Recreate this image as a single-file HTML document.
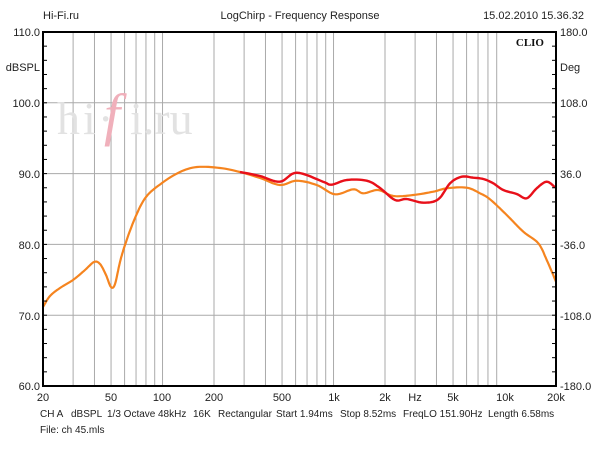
<!DOCTYPE html>
<html><head><style>
body{margin:0;background:#fff;}
svg{display:block;font-family:"Liberation Sans",sans-serif;}
</style></head><body>
<svg width="600" height="450" viewBox="0 0 600 450">
<rect width="600" height="450" fill="#fff"/>
<g font-size="11" fill="#222">
<text x="43" y="19">Hi-Fi.ru</text>
<text x="300" y="19" text-anchor="middle">LogChirp - Frequency Response</text>
<text x="584" y="19" text-anchor="end">15.02.2010 15.36.32</text>
<text x="40" y="36" text-anchor="end">110.0</text>
<text x="40" y="71" text-anchor="end">dBSPL</text>
<text x="40" y="107" text-anchor="end">100.0</text>
<text x="40" y="178" text-anchor="end">90.0</text>
<text x="40" y="249" text-anchor="end">80.0</text>
<text x="40" y="320" text-anchor="end">70.0</text>
<text x="40" y="390" text-anchor="end">60.0</text>
<text x="560" y="36">180.0</text>
<text x="560" y="71">Deg</text>
<text x="560" y="107">108.0</text>
<text x="560" y="178">36.0</text>
<text x="560" y="249">-36.0</text>
<text x="560" y="320">-108.0</text>
<text x="560" y="390">-180.0</text>
<g text-anchor="middle">
<text x="43" y="401">20</text><text x="111" y="401">50</text><text x="162" y="401">100</text>
<text x="214" y="401">200</text><text x="282" y="401">500</text><text x="334" y="401">1k</text>
<text x="385" y="401">2k</text><text x="415" y="401">Hz</text><text x="453" y="401">5k</text>
<text x="505" y="401">10k</text><text x="556" y="401">20k</text>
</g>
<g font-size="10">
<text x="40" y="417">CH A</text><text x="71" y="417">dBSPL</text><text x="107" y="417">1/3 Octave</text>
<text x="158" y="417">48kHz</text><text x="193" y="417">16K</text><text x="218" y="417">Rectangular</text>
<text x="276" y="417">Start 1.94ms</text><text x="340" y="417">Stop 8.52ms</text>
<text x="403" y="417">FreqLO 151.90Hz</text><text x="488" y="417">Length 6.58ms</text>
<text x="40" y="433">File: ch 45.mls</text>
</g>
</g>
<g stroke="#aaa" stroke-width="1" id="grid"></g>
<g font-family="Liberation Serif,serif" font-size="46" fill="#e2e2e2"><text x="57" y="134" letter-spacing="3">hi</text><text x="98" y="134">·</text><text x="130" y="134">i.ru</text></g>
<text x="104" y="134" font-family="Liberation Serif,serif" font-size="58" font-style="italic" fill="#f0b0bb">f</text>
<text x="544" y="46" text-anchor="end" font-family="Liberation Serif,serif" font-size="11" font-weight="bold" fill="#111">CLIO</text>
<polyline id="o" fill="none" stroke="#f5841f" stroke-width="2.2" stroke-linejoin="round"/>
<polyline id="r" fill="none" stroke="#e8101a" stroke-width="2.4" stroke-linejoin="round"/>
<rect x="43" y="32" width="513" height="354" fill="none" stroke="#000" stroke-width="2"/>
<g id="ticks" stroke="#000" stroke-width="1"></g>
</svg>
<script>
var ns="http://www.w3.org/2000/svg",g=document.getElementById("grid"),t=document.getElementById("ticks");
function L(p,x1,y1,x2,y2){var l=document.createElementNS(ns,"line");l.setAttribute("x1",x1);l.setAttribute("y1",y1);l.setAttribute("x2",x2);l.setAttribute("y2",y2);p.appendChild(l);}
for(var d=10;d<=1000;d*=10)for(var m=1;m<10;m++){var f=d*m;if(f<20||f>20000)continue;var x=43+171*Math.log10(f/20);L(g,x,32,x,386);}
for(var i=1;i<5;i++){var y=32+70.8*i;L(g,43,y,556,y);}
for(var i=0;i<=50;i+=2){var y=32+7.08*i;L(t,43,y,47,y);L(t,552,y,556,y);}
var O=[[43,307],[50,296],[60,288],[73,280],[85,270],[94,262],[100,264],[106,275],[111,287],[115,284],[120,262],[125,245],[135,218],[146,197],[162,183],[180,172],[197,167],[220,168],[240,172],[260,178],[280,185],[296.7,180.7],[316.7,185],[335,194.3],[353.3,189.3],[363.3,193.3],[378.3,190],[393.3,196],[413.3,195],[433.3,191.7],[446.7,188.3],[466.7,187.7],[480,193.3],[490,199.3],[506.7,215],[523.3,231.7],[538.3,243.3],[546.7,260],[556,281.7]];
var R=[[240,172],[260,176],[280,181.7],[296.7,172.7],[323,181.7],[331.7,184.7],[346.7,180],[366.7,180.7],[380,188],[395,200],[406.7,199],[423.3,202.7],[438.3,199.3],[450,183.3],[461.7,176.7],[473.3,177.7],[483.3,179],[493.3,183.3],[503.3,190],[516.7,194],[526.7,198.3],[536.7,188.3],[546.7,181.7],[555,187.3]];
function sm(P){var out=[];for(var i=0;i<P.length-1;i++){var p0=P[Math.max(i-1,0)],p1=P[i],p2=P[i+1],p3=P[Math.min(i+2,P.length-1)];for(var s=0;s<8;s++){var u=s/8,u2=u*u,u3=u2*u;var f=function(a,b,c,d){return 0.5*(2*b+(-a+c)*u+(2*a-5*b+4*c-d)*u2+(-a+3*b-3*c+d)*u3);};out.push(f(p0[0],p1[0],p2[0],p3[0]).toFixed(1)+","+f(p0[1],p1[1],p2[1],p3[1]).toFixed(1));}}var l=P[P.length-1];out.push(l[0]+","+l[1]);return out.join(" ");}
document.getElementById("o").setAttribute("points",sm(O));
document.getElementById("r").setAttribute("points",sm(R));
</script>
</body></html>
